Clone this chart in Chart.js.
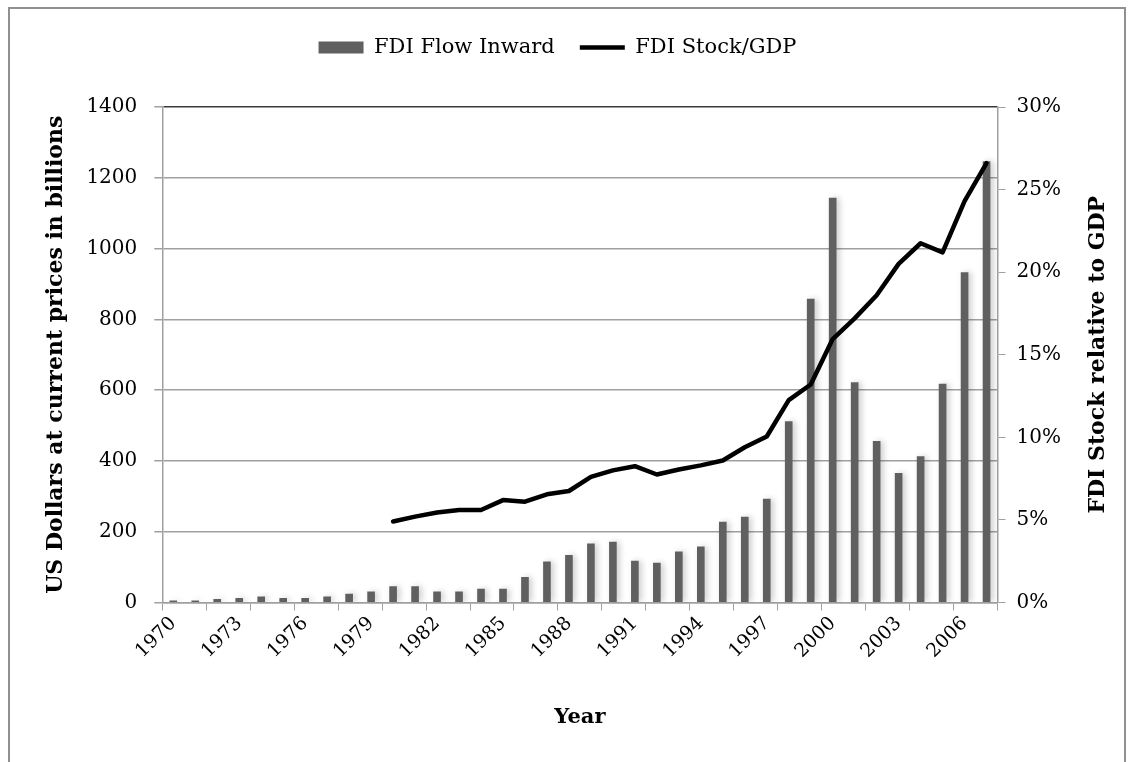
<!DOCTYPE html>
<html>
<head>
<meta charset="utf-8">
<script src="https://cdn.jsdelivr.net/npm/chart.js@4"></script>
<style>
body{margin:0;background:#fff;}
#frame{position:absolute;left:8px;top:7px;width:1118px;height:770px;border:2px solid #909090;box-sizing:border-box;}
#wrap{position:absolute;left:0;top:0;width:1133px;height:762px;}
</style>
</head>
<body>
<div id="frame"></div>
<div id="wrap"><canvas id="fdiChart"></canvas></div>
<script>

// years 1970 - 2007
const years = ['1970','1971','1972','1973','1974','1975','1976','1977','1978','1979',
    '1980','1981','1982','1983','1984','1985','1986','1987','1988','1989',
    '1990','1991','1992','1993','1994','1995','1996','1997','1998','1999',
    '2000','2001','2002','2003','2004','2005','2006','2007'];

// FDI inflows, US$ billions
const fdiFlow = [5,5,9,12,16,12,12,16,24,30,
    45,45,30,30,38,38,71,115,133,166,
    171,117,111,143,157,227,241,292,511,857,
    1143,621,455,365,412,617,932,1246];

// FDI stock as % of GDP (no data before 1980)
const stockGdp = [null,null,null,null,null,null,null,null,null,null,
    4.9,5.2,5.45,5.6,5.6,6.2,6.1,6.55,6.75,7.6,
    8.0,8.25,7.75,8.05,8.3,8.6,9.4,10.05,12.25,13.2,
    15.95,17.2,18.6,20.5,21.75,21.2,24.3,26.6];

const leftTicks = [0,200,400,600,800,1000,1200,1400];
const rightTicks = [0,5,10,15,20,25,30];

const serif = '"DejaVu Serif", serif';
const axisGrey = '#a0a0a0';
const rightTitleText = 'FDI Stock relative to GDP';

// soft edge next to the bars
const barGlow = {
    id: 'barGlow',
    beforeDatasetDraw(chart, args){
        if(args.index !== 0) return;
        chart.ctx.save();
        chart.ctx.shadowColor = 'rgba(0,0,0,0.2)';
        chart.ctx.shadowBlur = 6;
        chart.ctx.shadowOffsetX = 3;
    },
    afterDatasetDraw(chart, args){
        if(args.index === 0) chart.ctx.restore();
    }
};

// space between legend and plot
const legendGap = {
    id: 'legendGap',
    beforeInit(chart){
        const fit = chart.legend.fit;
        chart.legend.fit = function(){
            fit.bind(chart.legend)();
            this.height += 39;
        };
    }
};

// right axis title reads bottom to top like the left one
const rightTitle = {
    id: 'rightTitle',
    afterDraw(chart){
        const c = chart.ctx;
        const a = chart.chartArea;
        c.save();
        c.translate(1098, (a.top + a.bottom) / 2);
        c.rotate(-Math.PI / 2);
        c.font = 'bold 22px ' + serif;
        c.fillStyle = '#000';
        c.textAlign = 'center';
        c.textBaseline = 'middle';
        c.fillText(rightTitleText, 0, 0);
        c.restore();
    }
};

const ctx = document.getElementById('fdiChart');

new Chart(ctx, {
    type: 'bar',
    data: {
        labels: years,
        datasets: [{
            label: 'FDI Flow Inward',
            data: fdiFlow,
            backgroundColor: '#606060',
            borderWidth: 0,
            barThickness: 7,
            pointStyle: 'rect',
            yAxisID: 'y',
            order: 2
        }, {
            type: 'line',
            label: 'FDI Stock/GDP',
            data: stockGdp,
            borderColor: '#000',
            backgroundColor: '#000',
            borderWidth: 4.5,
            pointRadius: 0,
            pointStyle: 'line',
            tension: 0,
            borderJoinStyle: 'round',
            borderCapStyle: 'round',
            yAxisID: 'y1',
            order: 1
        }]
    },
    options: {
        responsive: true,
        maintainAspectRatio: false,
        animation: false,
        layout: {padding: {top: 12, left: 43, right: 61, bottom: 32}},
        plugins: {
            legend: {
                position: 'top',
                labels: {
                    usePointStyle: true,
                    pointStyleWidth: 45,
                    boxHeight: 12,
                    padding: 25,
                    color: '#000',
                    font: {family: serif, size: 21},
                    sort: (a, b) => a.datasetIndex - b.datasetIndex
                }
            },
            tooltip: {enabled: false}
        },
        scales: {
            x: {
                ticks: {
                    autoSkip: false,
                    minRotation: 45,
                    maxRotation: 45,
                    padding: 2,
                    color: '#000',
                    font: {family: serif, size: 19},
                    callback: (v, i) => i % 3 === 0 ? years[i] : ''
                },
                grid: {
                    drawOnChartArea: false,
                    offset: true,
                    tickLength: 8,
                    tickColor: c => (c.index === undefined || c.index % 2 === 0) ? axisGrey : 'rgba(0,0,0,0)'
                },
                border: {color: axisGrey, width: 1.5},
                title: {
                    display: true,
                    text: 'Year',
                    color: '#000',
                    font: {family: serif, size: 21, weight: 'bold'},
                    padding: {top: 40, bottom: 0}
                }
            },
            y: {
                position: 'left',
                min: leftTicks[0],
                max: leftTicks[leftTicks.length - 1],
                afterBuildTicks: s => { s.ticks = leftTicks.map(v => ({value: v})); },
                ticks: {padding: 17, color: '#000', font: {family: serif, size: 20}, callback: v => String(v)},
                grid: {
                    color: c => c.index === leftTicks.length - 1 ? '#3a3a3a' : axisGrey,
                    lineWidth: 1.5,
                    tickLength: 8,
                    tickColor: axisGrey
                },
                border: {color: axisGrey, width: 1.5},
                title: {
                    display: true,
                    text: 'US Dollars at current prices in billions',
                    color: '#000',
                    font: {family: serif, size: 22, weight: 'bold'},
                    padding: {top: 0, bottom: 0}
                }
            },
            y1: {
                position: 'right',
                min: rightTicks[0],
                max: rightTicks[rightTicks.length - 1],
                afterBuildTicks: s => { s.ticks = rightTicks.map(v => ({value: v})); },
                ticks: {padding: 11, color: '#000', font: {family: serif, size: 20}, callback: v => v + '%'},
                grid: {drawOnChartArea: false, tickLength: 8, tickColor: axisGrey},
                border: {color: axisGrey, width: 1.5}
            }
        }
    },
    plugins: [barGlow, legendGap, rightTitle]
});
</script>
</body>
</html>
